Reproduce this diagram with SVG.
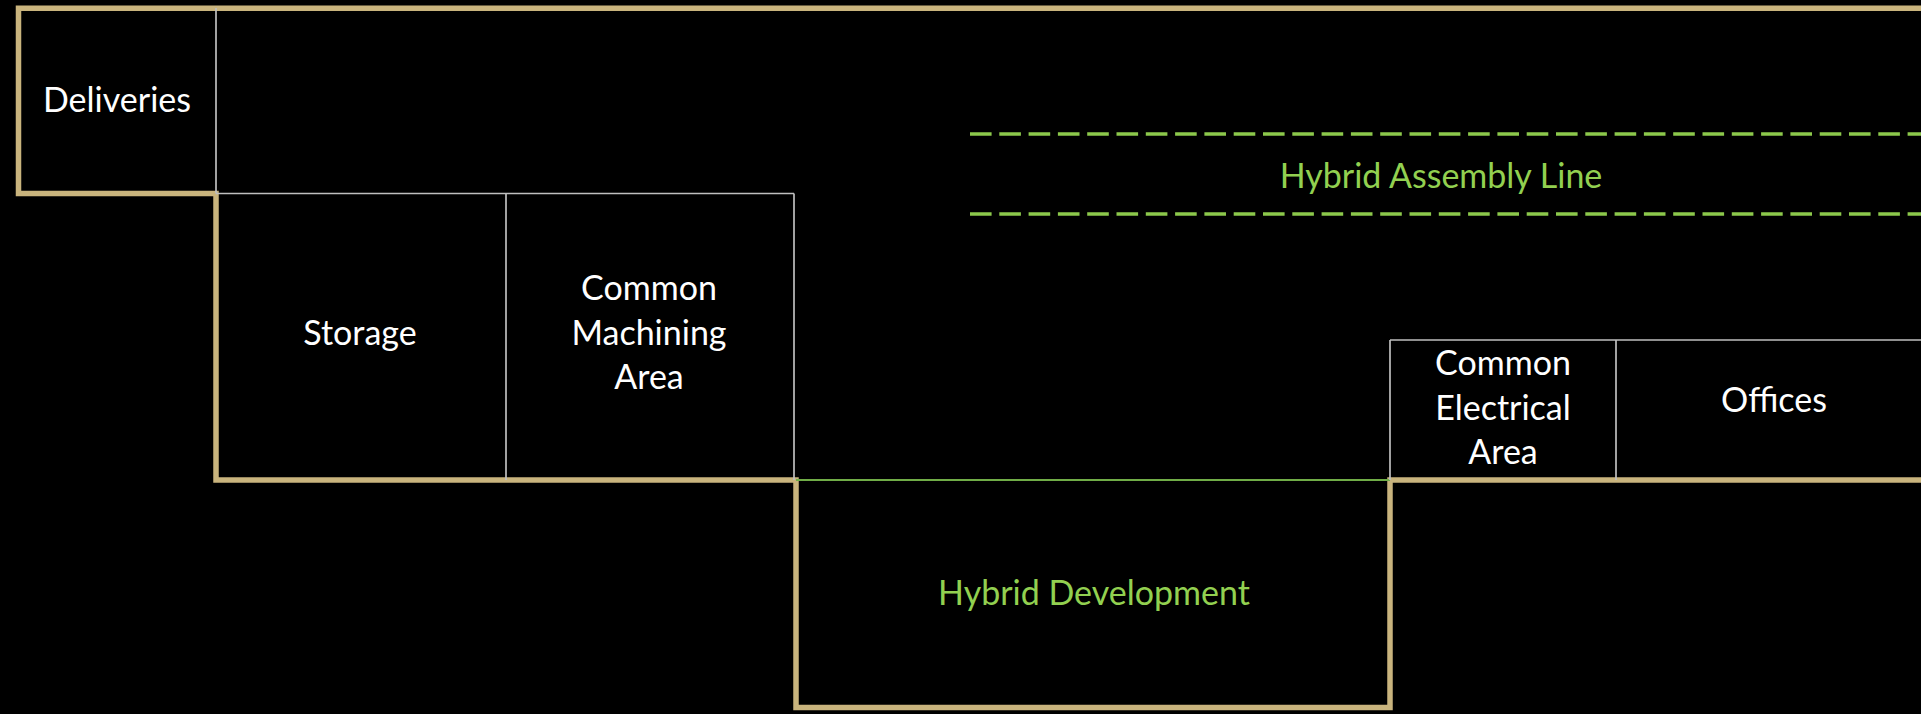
<svg xmlns="http://www.w3.org/2000/svg" width="1921" height="714" viewBox="0 0 1921 714">
  <style>
    .wall { fill: none; stroke: #c9b47d; stroke-width: 5.5; stroke-linejoin: miter; stroke-linecap: square; }
    .part { fill: none; stroke: #bfbfbf; stroke-width: 1.7; }
    .lbl { font-family: Lato, "Open Sans", "Liberation Sans", sans-serif; font-size: 34px; fill: #ffffff; text-anchor: middle; }
    .grn { fill: #92d050; }
    .dash { fill: none; stroke: #8cc84b; stroke-width: 3.4; stroke-dasharray: 21.6 7.7; }
  </style>
  <rect x="0" y="0" width="1921" height="714" fill="#000000"/>

  <g id="walls">
    <path class="wall" d="M 1924 8.3 H 18.5 V 193.5 H 216 V 480 H 796 V 707.5 H 1390 V 480 H 1924"/>
  </g>

  <g id="deliveries">
    <line class="part" x1="216" y1="8" x2="216" y2="193.5"/>
    <text class="lbl" x="117" y="112">Deliveries</text>
  </g>

  <g id="storage">
    <line class="part" x1="216" y1="193.5" x2="506" y2="193.5"/>
    <line class="part" x1="506" y1="193.5" x2="506" y2="480"/>
    <text class="lbl" x="360" y="345">Storage</text>
  </g>

  <g id="common-machining-area">
    <line class="part" x1="506" y1="193.5" x2="794" y2="193.5"/>
    <line class="part" x1="794" y1="193.5" x2="794" y2="480"/>
    <text class="lbl" x="649" y="300">Common</text>
    <text class="lbl" x="649" y="345">Machining</text>
    <text class="lbl" x="649" y="389">Area</text>
  </g>

  <g id="hybrid-assembly-line">
    <line class="dash" x1="970" y1="134" x2="1921" y2="134"/>
    <line class="dash" x1="970" y1="214" x2="1921" y2="214"/>
    <text class="lbl grn" x="1441" y="188">Hybrid Assembly Line</text>
  </g>

  <g id="hybrid-development">
    <line x1="796" y1="480" x2="1390" y2="480" stroke="#70ad47" stroke-width="2"/>
    <text class="lbl grn" x="1094" y="605">Hybrid Development</text>
  </g>

  <g id="common-electrical-area">
    <line class="part" x1="1390" y1="340" x2="1616" y2="340"/>
    <line class="part" x1="1390" y1="340" x2="1390" y2="480"/>
    <line class="part" x1="1616" y1="340" x2="1616" y2="480"/>
    <text class="lbl" x="1503" y="375">Common</text>
    <text class="lbl" x="1503" y="420">Electrical</text>
    <text class="lbl" x="1503" y="464">Area</text>
  </g>

  <g id="offices">
    <line class="part" x1="1616" y1="340" x2="1921" y2="340"/>
    <text class="lbl" x="1774" y="412">Offices</text>
  </g>

  <g id="connectors"/>
</svg>
